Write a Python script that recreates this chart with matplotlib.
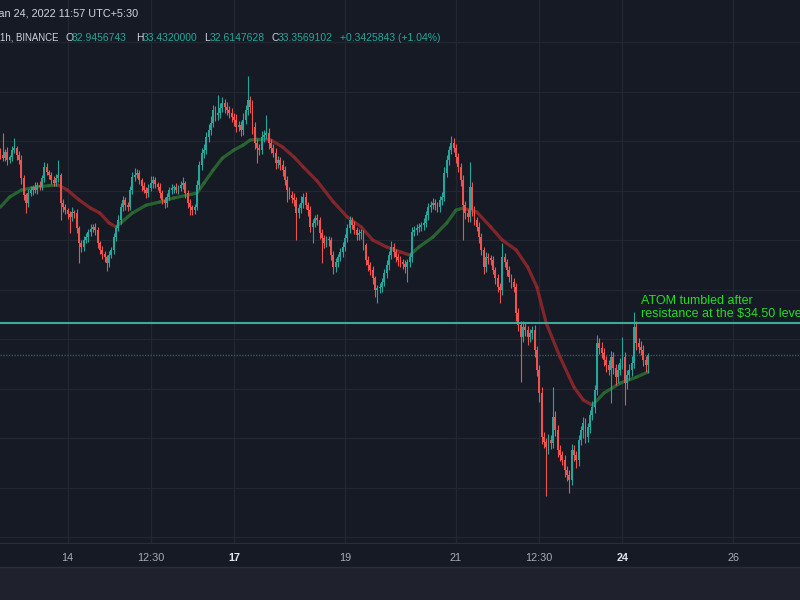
import numpy as np
import matplotlib
matplotlib.use('Agg')
import matplotlib.pyplot as plt
from matplotlib.collections import LineCollection
from matplotlib.patches import Rectangle
from matplotlib.lines import Line2D

plt.rcParams['font.family'] = ['Liberation Sans', 'DejaVu Sans']

BG = '#161a25'
PANEL = '#1f222d'
GRID = '#232734'
TXT = '#d1d4dc'
AXTXT = '#a9acb6'
UP = '#26a69a'
DOWN = '#ef5350'
MA_UP = '#2b6a33'
MA_DOWN = '#8e272b'
NOTE = '#22dd22'

# hourly ATOM/USDT closes, Jan 12 19:00 -> Jan 24 11:00
first_open = 41.55
closes = [
    41.43, 41.31, 41.56, 41.23, 41.35, 41.64, 41.72, 41.43, 41.23, 40.51,
    39.82, 39.49, 39.90, 40.02, 40.14, 40.02, 40.22, 40.14, 40.51, 40.95,
    40.75, 40.63, 40.42, 40.30, 40.51, 40.63, 39.49, 39.33, 39.21, 39.05,
    38.93, 39.13, 39.09, 38.48, 37.88, 37.72, 38.00, 38.12, 38.32, 38.44,
    38.53, 38.40, 37.88, 37.60, 37.43, 37.31, 37.07, 37.39, 37.60, 38.12,
    38.48, 38.81, 39.33, 39.62, 39.41, 39.33, 40.02, 40.55, 40.63, 40.71,
    40.42, 40.18, 40.02, 39.90, 40.10, 40.30, 40.42, 40.26, 40.14, 39.90,
    39.62, 39.49, 39.74, 40.02, 40.10, 40.14, 40.02, 40.10, 40.22, 40.30,
    39.90, 39.49, 39.33, 39.21, 39.33, 40.22, 41.03, 41.52, 41.64, 42.16,
    42.44, 42.73, 43.25, 43.05, 43.13, 43.33, 43.54, 43.37, 43.25, 43.13,
    42.97, 42.85, 42.57, 42.65, 42.44, 42.85, 43.25, 43.66, 43.37, 42.57,
    41.92, 41.72, 41.64, 42.16, 42.24, 42.32, 41.92, 41.72, 41.52, 41.11,
    41.23, 41.03, 40.83, 40.42, 40.02, 39.82, 39.70, 39.62, 39.09, 39.29,
    39.49, 39.74, 39.41, 39.21, 38.53, 38.69, 38.89, 38.81, 38.28, 38.08,
    37.88, 38.00, 38.00, 37.39, 36.91, 37.11, 37.31, 37.52, 37.72, 38.08,
    38.48, 38.81, 38.61, 38.40, 38.20, 38.28, 38.28, 37.80, 37.19, 36.99,
    36.79, 36.46, 35.98, 36.06, 36.10, 36.30, 36.67, 36.99, 37.39, 37.72,
    37.52, 37.31, 37.19, 37.11, 37.03, 36.91, 37.11, 37.31, 38.32, 38.40,
    38.48, 38.53, 38.61, 38.69, 39.01, 39.33, 39.41, 39.49, 39.41, 39.33,
    39.62, 39.74, 40.71, 41.23, 41.64, 41.92, 41.72, 41.35, 40.95, 40.42,
    39.41, 39.09, 38.93, 40.14, 39.21, 38.81, 38.53, 38.12, 37.60, 36.91,
    37.31, 37.27, 37.19, 36.79, 36.46, 36.10, 35.98, 37.31, 37.11, 36.79,
    36.51, 36.30, 36.10, 35.05, 34.57, 34.08, 34.48, 34.36, 34.08, 34.24,
    34.36, 33.56, 32.75, 31.82, 30.04, 29.84, 29.64, 29.92, 29.80, 30.85,
    30.32, 29.52, 29.31, 29.11, 28.71, 28.51, 28.30, 29.52, 29.31, 29.11,
    29.92, 30.32, 30.61, 30.04, 30.44, 30.93, 31.25, 31.94, 33.84, 33.64,
    33.43, 33.15, 32.95, 32.75, 33.27, 32.83, 32.46, 32.75, 33.03, 33.27,
    32.22, 32.55, 32.75, 33.03, 34.48, 33.84, 33.68, 33.56, 33.15, 32.95, 33.36,
]
# wick beyond the body (high - max(open, close), min(open, close) - low)
wick_up = [
    0.15, 0.90, 0.12, 0.20, 0.10, 0.18, 0.40, 0.10, 0.15, 0.20,
    0.12, 0.10, 0.18, 0.15, 0.10, 0.20, 0.12, 0.15, 0.10, 0.20,
    0.15, 0.10, 0.12, 0.18, 0.15, 0.60, 0.10, 0.15, 0.12, 0.10,
    0.12, 0.20, 0.10, 0.15, 0.10, 0.12, 0.18, 0.15, 0.12, 0.20,
    0.10, 0.15, 0.12, 0.10, 0.15, 0.12, 0.10, 0.18, 0.12, 0.15,
    0.12, 0.20, 0.15, 0.18, 0.10, 0.12, 0.15, 0.20, 0.30, 0.15,
    0.12, 0.10, 0.15, 0.12, 0.18, 0.30, 0.15, 0.12, 0.10, 0.15,
    0.12, 0.10, 0.15, 0.12, 0.18, 0.10, 0.15, 0.12, 0.18, 0.25,
    0.10, 0.12, 0.15, 0.10, 0.12, 0.20, 0.15, 0.18, 0.25, 0.20,
    0.25, 0.30, 0.20, 0.15, 0.73, 0.20, 0.25, 0.15, 0.20, 0.15,
    0.20, 0.15, 0.25, 0.18, 0.15, 0.30, 0.20, 0.98, 0.15, 0.30,
    0.20, 0.15, 0.18, 0.25, 0.20, 0.73, 0.20, 0.15, 0.18, 0.20,
    0.15, 0.12, 0.20, 0.15, 0.18, 0.12, 0.15, 0.20, 0.12, 0.18,
    0.30, 0.15, 0.20, 0.12, 0.15, 0.18, 0.12, 0.15, 0.12, 0.15,
    0.12, 0.18, 0.15, 0.12, 0.15, 0.18, 0.12, 0.15, 0.20, 0.15,
    0.18, 0.15, 0.12, 0.15, 0.12, 0.18, 0.15, 0.12, 0.10, 0.15,
    0.12, 0.15, 0.10, 0.12, 0.15, 0.18, 0.15, 0.20, 0.18, 0.25,
    0.15, 0.12, 0.18, 0.15, 0.12, 0.15, 0.12, 0.18, 0.20, 0.15,
    0.18, 0.15, 0.12, 0.20, 0.15, 0.18, 0.15, 0.20, 0.15, 0.12,
    0.15, 0.20, 0.25, 0.20, 0.15, 0.30, 0.20, 0.15, 0.18, 0.15,
    0.20, 0.15, 0.18, 1.00, 0.20, 0.15, 0.12, 0.18, 0.15, 0.12,
    0.20, 0.15, 0.12, 0.15, 0.12, 0.15, 0.18, 0.57, 0.15, 0.12,
    0.15, 0.12, 0.18, 0.15, 0.20, 0.15, 0.25, 0.20, 0.15, 0.18,
    0.15, 0.20, 0.15, 0.20, 0.25, 0.20, 0.18, 0.25, 0.20, 1.20,
    0.25, 0.20, 0.18, 0.15, 0.20, 0.15, 0.20, 0.25, 0.20, 0.18,
    0.20, 0.18, 0.25, 0.20, 0.18, 0.20, 0.25, 0.20, 0.32, 0.20,
    0.25, 0.20, 0.18, 0.20, 0.25, 0.20, 0.18, 0.25, 0.20, 0.80,
    0.20, 0.18, 0.25, 0.30, 0.60, 0.25, 0.20, 0.25, 0.20, 0.18, 0.07,
]
wick_dn = [
    0.15, 0.10, 0.12, 0.18, 0.10, 0.15, 0.12, 0.20, 0.15, 0.25,
    0.20, 0.40, 0.15, 0.12, 0.18, 0.10, 0.15, 0.12, 0.10, 0.15,
    0.12, 0.18, 0.15, 0.10, 0.12, 0.15, 0.68, 0.20, 0.15, 0.18,
    0.65, 0.15, 0.20, 0.18, 0.80, 0.20, 0.15, 0.12, 0.18, 0.15,
    0.12, 0.18, 0.20, 0.15, 0.18, 0.20, 0.30, 0.15, 0.12, 0.18,
    0.15, 0.12, 0.18, 0.15, 0.20, 0.15, 0.12, 0.15, 0.18, 0.12,
    0.15, 0.18, 0.12, 0.20, 0.15, 0.12, 0.18, 0.15, 0.12, 0.20,
    0.18, 0.20, 0.15, 0.12, 0.15, 0.18, 0.12, 0.15, 0.12, 0.15,
    0.20, 0.18, 0.30, 0.20, 0.15, 0.12, 0.15, 0.18, 0.20, 0.15,
    0.18, 0.20, 0.15, 0.25, 0.18, 0.20, 0.15, 0.25, 0.20, 0.18,
    0.20, 0.25, 0.20, 0.18, 0.25, 0.20, 0.18, 0.20, 0.25, 0.30,
    0.25, 0.60, 0.20, 0.18, 0.20, 0.15, 0.25, 0.20, 0.18, 0.25,
    0.20, 0.18, 0.25, 0.20, 0.50, 0.18, 0.20, 0.25, 1.10, 0.20,
    0.18, 0.20, 0.15, 0.25, 0.20, 0.65, 0.18, 0.20, 0.25, 1.00,
    0.20, 0.18, 0.25, 0.20, 0.30, 0.20, 0.18, 0.15, 0.20, 0.18,
    0.15, 0.20, 0.18, 0.15, 0.20, 0.18, 0.25, 0.20, 0.18, 0.25,
    0.20, 0.25, 0.30, 0.53, 0.20, 0.18, 0.15, 0.20, 0.18, 0.15,
    0.20, 0.18, 0.25, 0.20, 0.18, 0.25, 0.60, 0.20, 0.18, 0.15,
    0.20, 0.15, 0.18, 0.20, 0.15, 0.18, 0.20, 0.15, 0.18, 0.20,
    0.18, 0.20, 0.15, 0.18, 0.20, 0.15, 0.18, 0.25, 0.20, 0.25,
    1.40, 0.25, 0.20, 0.18, 0.25, 0.20, 0.18, 0.25, 0.20, 0.30,
    0.20, 0.25, 0.20, 0.18, 0.25, 0.20, 0.53, 0.20, 0.18, 0.25,
    0.20, 0.25, 0.20, 0.30, 0.25, 1.82, 0.20, 0.25, 0.30, 0.20,
    0.25, 0.30, 0.25, 0.35, 0.30, 0.25, 2.00, 0.30, 0.25, 0.20,
    0.25, 0.30, 0.25, 0.20, 0.30, 0.25, 0.53, 0.20, 0.25, 0.30,
    0.25, 0.20, 0.30, 0.25, 0.20, 0.25, 0.20, 0.25, 0.20, 0.25,
    0.20, 0.25, 0.30, 0.20, 1.35, 0.25, 0.30, 0.25, 0.20, 0.25,
    0.90, 0.25, 0.20, 0.25, 0.20, 0.30, 0.25, 0.20, 0.25, 0.30, 0.33,
]

# moving average line (candle index, price)
ma_idx = [0, 4, 9, 13, 17, 21, 25, 29, 34, 39, 43, 47, 50, 52, 57, 63, 69,
          75, 81, 85, 88, 92, 96, 101, 105, 108, 111, 114, 117, 122, 127,
          131, 137, 144, 150, 156, 161, 167, 173, 177, 181, 187, 193, 197,
          200, 206, 212, 217, 223, 228, 232, 236, 242, 248, 252, 256, 261,
          268, 275, 280]
ma_vals = [39.33, 39.74, 40.02, 40.10, 40.16, 40.20, 40.22, 40.02, 39.62,
           39.29, 39.09, 38.69, 38.53, 38.69, 39.09, 39.41, 39.54, 39.70,
           39.82, 39.90, 40.30, 40.83, 41.31, 41.64, 41.84, 42.04, 42.08,
           42.08, 42.04, 41.76, 41.35, 40.95, 40.38, 39.54, 38.93, 38.53,
           38.00, 37.72, 37.52, 37.39, 37.72, 38.12, 38.69, 39.21, 39.29,
           39.13, 38.53, 38.00, 37.60, 36.91, 36.10, 34.65, 33.27, 32.06,
           31.54, 31.33, 31.82, 32.22, 32.46, 32.67]

resistance = 34.65
grid_prices = [26, 28, 30, 32, 34, 36, 38, 40, 42, 44, 46]
tick_pos = [29, 65, 101, 149, 197, 233, 269, 317]
tick_labels = ['14', '12:30', '17', '19', '21', '12:30', '24', '26']
week_ticks = ['17', '24']

c = np.array(closes)
o = np.concatenate([[first_open], c[:-1]])
hi = np.maximum(o, c) + np.array(wick_up)
lo = np.minimum(o, c) - np.array(wick_dn)
x = np.arange(len(c))
cols = np.where(c >= o, UP, DOWN)

fig = plt.figure(figsize=(8, 6), dpi=100, facecolor=BG)
fig.patches.append(Rectangle((0, 0), 1, 33 / 600, transform=fig.transFigure,
                             facecolor=PANEL, edgecolor='none', zorder=0))
fig.add_artist(Line2D([0, 1], [33 / 600, 33 / 600], color='#2a2e39', lw=1))

ax = fig.add_axes([0, 57 / 600, 1, 543 / 600])
ax.set_facecolor(BG)

# moving average, coloured by direction
pts = np.column_stack([ma_idx, ma_vals])
segs = np.stack([pts[:-1], pts[1:]], axis=1)
seg_cols = [MA_UP if b >= a else MA_DOWN for a, b in zip(ma_vals[:-1], ma_vals[1:])]
ax.add_collection(LineCollection(segs, colors=seg_cols, linewidths=2.3,
                                 capstyle='round', joinstyle='round',
                                 alpha=0.9, zorder=2))

# candles
ax.vlines(x, lo, hi, colors=cols, lw=0.8, zorder=3)
ax.bar(x, np.maximum(np.abs(c - o), 0.03), bottom=np.minimum(o, c),
       width=0.82, color=cols, linewidth=0, zorder=4)

ax.axhline(resistance, color='#3cab9b', lw=1.5, zorder=5)
ax.axhline(c[-1], color='#36595e', lw=1, ls=(0, (1, 1)), zorder=1)

ax.text(277.0, 35.54, 'ATOM tumbled after', color=NOTE, fontsize=9,
        va='center', ha='left', zorder=6)
ax.text(277.0, 35.03, 'resistance at the $34.50 level', color=NOTE,
        fontsize=9, va='center', ha='left', zorder=6)

ax.set_xlim(-0.19, 345.76)
ax.set_ylim(25.76, 47.70)
ax.set_xticks(tick_pos, tick_labels)
ax.set_yticks(grid_prices)
ax.tick_params(axis='x', length=0, pad=7, colors=AXTXT, labelsize=7.8)
ax.tick_params(axis='y', left=False, labelleft=False)
for lbl in ax.get_xticklabels():
    if lbl.get_text() in week_ticks:
        lbl.set_color('#e3e6ee')
        lbl.set_fontweight('bold')
ax.grid(True, color=GRID, lw=0.9)
ax.set_axisbelow(True)
for side in ['top', 'left', 'right']:
    ax.spines[side].set_visible(False)
ax.spines['bottom'].set_color('#2a2e39')


# header legend
def fx(px):
    return px / 800


def fy(py):
    return 1 - py / 600


fig.text(fx(-7), fy(14), 'Jan 24, 2022 11:57 UTC+5:30', color=TXT,
         fontsize=7.8, va='center', ha='left')
header = [
    ('1h, BINANCE', 0, TXT, 6.9), ('O', 65, TXT, 7.5), ('32.9456743', 72, UP, 7.5),
    ('H', 136, TXT, 7.5), ('33.4320000', 143, UP, 7.5), ('L', 204, TXT, 7.5),
    ('32.6147628', 210, UP, 7.5), ('C', 271, TXT, 7.5), ('33.3569102', 278, UP, 7.5),
    ('+0.3425843 (+1.04%)', 340, UP, 7.5),
]
for s, px, col, fs in header:
    fig.text(fx(px), fy(38), s, color=col, fontsize=fs, va='center', ha='left')

fig.savefig('out.png', dpi=100, facecolor=BG)
